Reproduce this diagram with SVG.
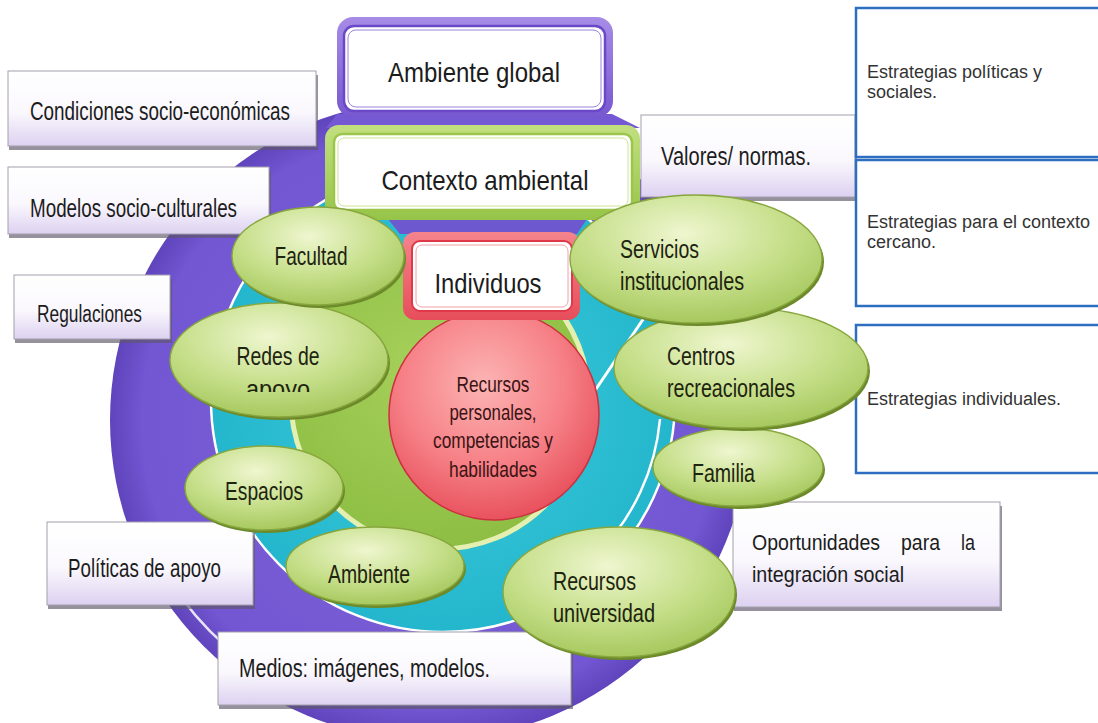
<svg xmlns="http://www.w3.org/2000/svg" width="1098" height="723" viewBox="0 0 1098 723">
<defs>
  <radialGradient id="gPurple" cx="50%" cy="50%" r="50%">
    <stop offset="0" stop-color="#8268dc"/>
    <stop offset="0.9" stop-color="#7256d2"/>
    <stop offset="1" stop-color="#5f44bc"/>
  </radialGradient>
  <radialGradient id="gCyan" cx="50%" cy="50%" r="50%">
    <stop offset="0" stop-color="#3cccdc"/>
    <stop offset="1" stop-color="#24b6cc"/>
  </radialGradient>
  <radialGradient id="gGreenC" cx="45%" cy="40%" r="60%">
    <stop offset="0" stop-color="#a6d05a"/>
    <stop offset="1" stop-color="#8ebe44"/>
  </radialGradient>
  <radialGradient id="gRed" cx="45%" cy="35%" r="65%">
    <stop offset="0" stop-color="#fcb4b4"/>
    <stop offset="0.6" stop-color="#f68086"/>
    <stop offset="1" stop-color="#e8525e"/>
  </radialGradient>
  <radialGradient id="gEll" cx="45%" cy="30%" r="75%">
    <stop offset="0" stop-color="#eef6cf"/>
    <stop offset="0.55" stop-color="#c6df8a"/>
    <stop offset="1" stop-color="#a2c558"/>
  </radialGradient>
  <linearGradient id="gBox" x1="0" y1="0" x2="0" y2="1">
    <stop offset="0" stop-color="#ffffff"/>
    <stop offset="0.55" stop-color="#faf8fd"/>
    <stop offset="1" stop-color="#ddd1f1"/>
  </linearGradient>
  <linearGradient id="gPurpleBox" x1="0" y1="0" x2="0" y2="1">
    <stop offset="0" stop-color="#a68ce6"/>
    <stop offset="1" stop-color="#7858d0"/>
  </linearGradient>
  <linearGradient id="gGreenBox" x1="0" y1="0" x2="0" y2="1">
    <stop offset="0" stop-color="#c2df80"/>
    <stop offset="1" stop-color="#96c448"/>
  </linearGradient>
  <linearGradient id="gRedBox" x1="0" y1="0" x2="0" y2="1">
    <stop offset="0" stop-color="#f5848c"/>
    <stop offset="1" stop-color="#e64e5a"/>
  </linearGradient>
  <clipPath id="clipApoyo"><rect x="160" y="300" width="240" height="92"/></clipPath>
  <style>
    .t { font-family: "Liberation Sans", Arial, sans-serif; fill: #1c1c1c; }
    .title { font-size: 28px; text-anchor: middle; }
    .bx { font-size: 25px; }
    .el { font-size: 25px; fill: #1e2410; }
    .rc { font-size: 22px; text-anchor: middle; fill: #3b1414; }
    .st { font-size: 18px; fill: #333333; }
    .box { fill: url(#gBox); stroke: #a4a0ac; stroke-width: 1; }
    .shadow { fill: #5e5868; opacity: 0.65; }
    .ell { fill: url(#gEll); stroke: #88a63e; stroke-width: 1.4; }
    .ellsh { fill: #6c8a2a; }
    .strat { fill: #ffffff; stroke: #2e6ec0; stroke-width: 2.5; }
  </style>
</defs>

<rect width="1098" height="723" fill="#ffffff"/>

<!-- background rings -->
<g id="rings">
  <circle cx="430" cy="420" r="320" fill="url(#gPurple)"/>
  <path d="M 181 597 A 304 304 0 0 0 244 661" fill="none" stroke="#ffffff" stroke-width="2.5" opacity="0.85"/>
  <circle cx="443" cy="400" r="232" fill="url(#gCyan)" stroke="#ffffff" stroke-width="2.5"/>
  <path d="M 660 419 A 218 218 0 0 1 597 554" fill="none" stroke="#ffffff" stroke-width="2.5"/>
  <line x1="648" y1="312" x2="594" y2="392" stroke="#ffffff" stroke-width="3"/>
  <circle cx="440" cy="400" r="149" fill="url(#gGreenC)" stroke="#e4efb0" stroke-width="5"/>
  <polygon points="337,114 612,114 640,128 326,128" fill="#7458d4"/>
  <polygon points="388,219 587,219 577,234 400,234" fill="#6e58d0"/>
</g>

<!-- central red circle -->
<g id="node-recursos-personales">
  <circle cx="494" cy="415" r="105" fill="url(#gRed)" stroke="#cc3040" stroke-width="1.5"/>
  <text class="t rc" x="493" y="392" textLength="73" lengthAdjust="spacingAndGlyphs">Recursos</text>
  <text class="t rc" x="493" y="420" textLength="87" lengthAdjust="spacingAndGlyphs">personales,</text>
  <text class="t rc" x="493" y="448" textLength="120" lengthAdjust="spacingAndGlyphs">competencias y</text>
  <text class="t rc" x="493" y="477" textLength="88" lengthAdjust="spacingAndGlyphs">habilidades</text>
</g>

<!-- title boxes -->
<g id="node-ambiente-global">
  <rect x="337" y="17" width="276" height="100" rx="16" fill="url(#gPurpleBox)"/>
  <rect x="344" y="26" width="261" height="85" rx="10" fill="#ffffff" stroke="#6a48c8" stroke-width="2.5"/>
  <rect x="348" y="30" width="253" height="77" rx="8" fill="none" stroke="#9a84dc" stroke-width="1"/>
  <text class="t title" x="474" y="82" textLength="172" lengthAdjust="spacingAndGlyphs">Ambiente global</text>
</g>

<g id="node-contexto-ambiental">
  <rect x="325" y="125" width="315" height="95" rx="14" fill="url(#gGreenBox)"/>
  <rect x="334" y="134" width="298" height="76" rx="8" fill="#ffffff" stroke="#9cc64a" stroke-width="2.5"/>
  <rect x="338" y="138" width="290" height="68" rx="6" fill="none" stroke="#cfe49a" stroke-width="1"/>
  <text class="t title" x="485" y="190" textLength="207" lengthAdjust="spacingAndGlyphs">Contexto ambiental</text>
</g>

<g id="node-individuos">
  <rect x="403" y="232" width="177" height="88" rx="12" fill="url(#gRedBox)"/>
  <rect x="412" y="241" width="160" height="70" rx="8" fill="#ffffff" stroke="#e03848" stroke-width="2"/>
  <rect x="416" y="245" width="152" height="62" rx="6" fill="none" stroke="#f0a0a6" stroke-width="1"/>
  <text class="t title" x="488" y="293" textLength="107" lengthAdjust="spacingAndGlyphs">Individuos</text>
</g>

<!-- left / bottom / middle text boxes -->
<g id="node-condiciones">
  <rect class="shadow" x="9" y="75" width="309" height="75"/>
  <rect class="box" x="8" y="71" width="308" height="75"/>
  <text class="t bx" x="30" y="120" textLength="260" lengthAdjust="spacingAndGlyphs">Condiciones socio-económicas</text>
</g>
<g id="node-modelos">
  <rect class="shadow" x="9" y="171" width="262" height="67"/>
  <rect class="box" x="8" y="167" width="261" height="67"/>
  <text class="t bx" x="30" y="217" textLength="207" lengthAdjust="spacingAndGlyphs">Modelos socio-culturales</text>
</g>
<g id="node-regulaciones">
  <rect class="shadow" x="15" y="279" width="157" height="64"/>
  <rect class="box" x="14" y="275" width="156" height="64"/>
  <text class="t bx" style="font-size:23px" x="37" y="322" textLength="105" lengthAdjust="spacingAndGlyphs">Regulaciones</text>
</g>
<g id="node-politicas">
  <rect class="shadow" x="48" y="526" width="207" height="83"/>
  <rect class="box" x="47" y="522" width="206" height="83"/>
  <text class="t bx" x="68" y="577" textLength="153" lengthAdjust="spacingAndGlyphs">Políticas de apoyo</text>
</g>
<g id="node-medios">
  <rect class="shadow" x="219" y="636" width="354" height="73"/>
  <rect class="box" x="218" y="632" width="353" height="73"/>
  <text class="t bx" x="239" y="677" textLength="251" lengthAdjust="spacingAndGlyphs">Medios: imágenes, modelos.</text>
</g>
<g id="node-valores">
  <rect class="shadow" x="642" y="119" width="215" height="82"/>
  <rect class="box" x="641" y="115" width="214" height="82"/>
  <text class="t bx" style="font-size:26px" x="661" y="165" textLength="150" lengthAdjust="spacingAndGlyphs">Valores/ normas.</text>
</g>
<g id="node-oportunidades">
  <rect class="shadow" x="734" y="506" width="268" height="105"/>
  <rect class="box" x="733" y="502" width="267" height="105"/>
  <text class="t bx" style="font-size:22px" x="752" y="550" textLength="128" lengthAdjust="spacingAndGlyphs">Oportunidades</text>
  <text class="t bx" style="font-size:22px" x="901" y="550" textLength="39" lengthAdjust="spacingAndGlyphs">para</text>
  <text class="t bx" style="font-size:22px" x="961" y="550" textLength="14" lengthAdjust="spacingAndGlyphs">la</text>
  <text class="t bx" style="font-size:22px" x="752" y="582" textLength="152" lengthAdjust="spacingAndGlyphs">integración social</text>
</g>

<!-- right strategy boxes -->
<g id="node-estrategias-politicas">
  <rect class="strat" x="856" y="8" width="260" height="149"/>
  <text class="t st" x="867" y="78">Estrategias políticas y</text>
  <text class="t st" x="867" y="98">sociales.</text>
</g>
<g id="node-estrategias-contexto">
  <rect class="strat" x="856" y="160" width="260" height="146"/>
  <text class="t st" x="867" y="228">Estrategias para el contexto</text>
  <text class="t st" x="867" y="248">cercano.</text>
</g>
<g id="node-estrategias-individuales">
  <rect class="strat" x="856" y="325" width="260" height="148"/>
  <text class="t st" x="867" y="405">Estrategias individuales.</text>
</g>

<!-- green ellipses -->
<g id="node-redes">
  <ellipse class="ellsh" cx="281" cy="363" rx="109" ry="57"/>
  <ellipse class="ell" cx="279" cy="360" rx="109" ry="57"/>
  <text class="t el" x="278" y="365" text-anchor="middle" textLength="83" lengthAdjust="spacingAndGlyphs">Redes de</text>
  <text class="t el" x="278" y="398" text-anchor="middle" textLength="64" lengthAdjust="spacingAndGlyphs" clip-path="url(#clipApoyo)">apoyo</text>
</g>
<g id="node-facultad">
  <ellipse class="ellsh" cx="320" cy="259" rx="86" ry="49"/>
  <ellipse class="ell" cx="318" cy="256" rx="86" ry="49"/>
  <text class="t el" x="311" y="265" text-anchor="middle" textLength="73" lengthAdjust="spacingAndGlyphs">Facultad</text>
</g>
<g id="node-ambiente">
  <ellipse class="ellsh" cx="377" cy="569" rx="89" ry="39"/>
  <ellipse class="ell" cx="375" cy="566" rx="89" ry="39"/>
  <text class="t el" x="369" y="583" text-anchor="middle" textLength="82" lengthAdjust="spacingAndGlyphs">Ambiente</text>
</g>
<g id="node-espacios">
  <ellipse class="ellsh" cx="266" cy="491" rx="79" ry="42"/>
  <ellipse class="ell" cx="264" cy="488" rx="79" ry="42"/>
  <text class="t el" x="264" y="500" text-anchor="middle" textLength="78" lengthAdjust="spacingAndGlyphs">Espacios</text>
</g>
<g id="node-familia">
  <ellipse class="ellsh" cx="740" cy="470" rx="85" ry="39"/>
  <ellipse class="ell" cx="738" cy="467" rx="85" ry="39"/>
  <text class="t el" x="692" y="482" textLength="63" lengthAdjust="spacingAndGlyphs">Familia</text>
</g>
<g id="node-centros">
  <ellipse class="ellsh" cx="743" cy="371" rx="127" ry="60"/>
  <ellipse class="ell" cx="741" cy="368" rx="127" ry="60"/>
  <text class="t el" x="667" y="365" textLength="68" lengthAdjust="spacingAndGlyphs">Centros</text>
  <text class="t el" x="667" y="397" textLength="128" lengthAdjust="spacingAndGlyphs">recreacionales</text>
</g>
<g id="node-servicios">
  <ellipse class="ellsh" cx="698" cy="262" rx="126" ry="64"/>
  <ellipse class="ell" cx="696" cy="259" rx="126" ry="64"/>
  <text class="t el" x="620" y="258" textLength="79" lengthAdjust="spacingAndGlyphs">Servicios</text>
  <text class="t el" x="620" y="290" textLength="124" lengthAdjust="spacingAndGlyphs">institucionales</text>
</g>
<g id="node-recursos-universidad">
  <ellipse class="ellsh" cx="621" cy="595" rx="116" ry="65"/>
  <ellipse class="ell" cx="619" cy="592" rx="116" ry="65"/>
  <text class="t el" x="553" y="590" textLength="83" lengthAdjust="spacingAndGlyphs">Recursos</text>
  <text class="t el" x="553" y="622" textLength="102" lengthAdjust="spacingAndGlyphs">universidad</text>
</g>

<g id="connectors"></g>
</svg>
